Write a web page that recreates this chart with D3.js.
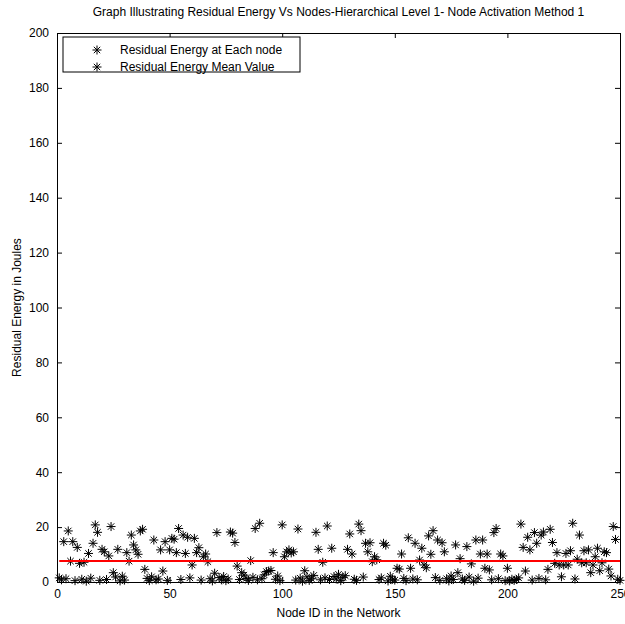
<!DOCTYPE html>
<html>
<head>
<meta charset="utf-8">
<script src="https://cdn.jsdelivr.net/npm/d3@7"></script>
<style>
  body { margin: 0; background: #fff; }
  text { font-family: "Liberation Sans", Arial, sans-serif; fill: #000; }
</style>
</head>
<body>
<svg id="chart" width="625" height="624"></svg>
<script>
// residual energy per node (J), node ids 1..250
var energy = [
  1.5, 0.8, 14.7, 1.2, 18.6, 7.6, 14.7, 0.5, 12.6, 6.8,
  1.0, 7.2, 0.3, 10.4, 1.4, 14.1, 20.8, 18.1, 0.6, 11.9,
  11.0, 0.9, 9.5, 20.2, 3.4, 1.8, 11.9, 0.4, 2.1, 0.7,
  10.7, 7.6, 17.1, 13.5, 11.7, 10.1, 18.6, 19.2, 4.6, 1.3,
  0.5, 1.9, 15.3, 0.8, 1.1, 11.7, 4.0, 14.7, 0.6, 11.7,
  15.9, 15.6, 10.7, 19.5, 0.9, 17.1, 10.4, 16.3, 1.5, 6.2,
  15.9, 10.7, 12.5, 0.7, 9.2, 10.2, 7.4, 1.2, 0.4, 3.2,
  18.0, 1.6, 0.8, 2.0, 0.5, 1.1, 18.2, 17.8, 14.4, 5.8,
  0.9, 3.4, 2.5, 1.3, 0.6, 7.8, 1.7, 19.5, 0.8, 21.4,
  1.2, 2.6, 3.8, 4.0, 4.2, 10.7, 1.0, 2.2, 0.5, 20.8,
  9.2, 11.0, 11.7, 10.6, 11.0, 0.7, 19.3, 1.4, 0.3, 4.1,
  1.9, 0.6, 1.2, 2.4, 18.1, 11.9, 0.8, 7.2, 1.5, 20.4,
  0.9, 12.3, 2.0, 1.1, 2.8, 0.5, 1.7, 2.3, 11.9, 17.5,
  10.2, 1.0, 0.6, 21.1, 18.7, 1.8, 14.1, 11.0, 14.3, 7.4,
  9.2, 8.1, 0.9, 1.5, 14.1, 13.4, 0.4, 2.1, 1.0, 0.7,
  5.0, 4.7, 10.2, 1.3, 0.5, 16.1, 5.0, 1.1, 14.1, 0.8,
  8.0, 12.3, 6.2, 5.2, 16.8, 10.1, 18.7, 1.6, 15.3, 0.6,
  14.3, 11.0, 1.2, 0.4, 2.2, 0.9, 13.5, 3.4, 8.5, 1.1,
  0.6, 12.9, 1.8, 6.6, 0.3, 15.3, 1.4, 10.2, 15.3, 5.0,
  10.2, 4.4, 0.8, 18.0, 19.5, 1.2, 10.2, 9.5, 0.5, 5.0,
  0.4, 1.0, 0.6, 0.9, 1.5, 21.1, 12.6, 4.0, 16.3, 11.7,
  0.7, 18.0, 14.1, 1.3, 17.1, 18.2, 0.8, 4.6, 19.2, 14.4,
  6.8, 10.7, 6.2, 1.9, 6.2, 10.4, 6.2, 11.4, 21.4, 1.1,
  8.3, 17.1, 7.0, 11.4, 7.0, 11.7, 3.4, 6.2, 9.2, 12.3,
  4.1, 7.0, 11.0, 10.7, 4.7, 2.2, 20.2, 15.5, 1.0, 0.6
]

var xTicks = [0, 50, 100, 150, 200, 250]
var yTicks = [0, 20, 40, 60, 80, 100, 120, 140, 160, 180, 200]
var legendLabels = ['Residual Energy at Each node', 'Residual Energy Mean Value']

var svg = d3.select('#chart')
var plotLeft = 57, plotRight = 620, plotTop = 33, plotBottom = 582

var x = d3.scaleLinear().domain([0, 250]).range([plotLeft, plotRight])
var y = d3.scaleLinear().domain([0, 200]).range([plotBottom, plotTop])

var mean = d3.mean(energy)

// star marker like matlab '*'
function star(cx, cy) {
  var a = 4.5, b = 3.2
  return 'M' + (cx - a) + ',' + cy + 'H' + (cx + a) +
    'M' + cx + ',' + (cy - a) + 'V' + (cy + a) +
    'M' + (cx - b) + ',' + (cy - b) + 'L' + (cx + b) + ',' + (cy + b) +
    'M' + (cx - b) + ',' + (cy + b) + 'L' + (cx + b) + ',' + (cy - b)
}

// points
svg.append('g').selectAll('path')
  .data(energy)
  .enter().append('path')
  .attr('d', function(d, i) { return star(x(i + 1), y(d)) })
  .attr('stroke', '#000')
  .attr('stroke-width', 1)
  .attr('fill', 'none')

// mean line
svg.append('line')
  .attr('x1', x(1)).attr('x2', x(250))
  .attr('y1', y(mean)).attr('y2', y(mean))
  .attr('stroke', '#ff0000')
  .attr('stroke-width', 2)

// axes, ticks inside like matlab
svg.append('g')
  .attr('transform', 'translate(0,' + plotBottom + ')')
  .call(d3.axisBottom(x).tickValues(xTicks).tickSizeInner(-5).tickSizeOuter(0).tickPadding(7))
svg.append('g')
  .attr('transform', 'translate(0,' + plotTop + ')')
  .call(d3.axisTop(x).tickValues(xTicks).tickSizeInner(-5).tickSizeOuter(0).tickFormat(''))
svg.append('g')
  .attr('transform', 'translate(' + plotLeft + ',0)')
  .call(d3.axisLeft(y).tickValues(yTicks).tickSizeInner(-5).tickSizeOuter(0).tickPadding(8))
svg.append('g')
  .attr('transform', 'translate(' + plotRight + ',0)')
  .call(d3.axisRight(y).tickValues(yTicks).tickSizeInner(-5).tickSizeOuter(0).tickFormat(''))

svg.selectAll('.domain').attr('stroke', '#000')
svg.selectAll('.tick line').attr('stroke', '#000')
svg.selectAll('.tick text').attr('font-size', 12).attr('font-family', '"Liberation Sans", Arial, sans-serif')

// title and axis labels
svg.append('text')
  .attr('x', (plotLeft + plotRight) / 2).attr('y', 16)
  .attr('text-anchor', 'middle').attr('font-size', 12)
  .text('Graph Illustrating Residual Energy Vs Nodes-Hierarchical Level 1- Node Activation Method 1')

svg.append('text')
  .attr('x', (plotLeft + plotRight) / 2).attr('y', 617)
  .attr('text-anchor', 'middle').attr('font-size', 12)
  .text('Node ID in the Network')

svg.append('text')
  .attr('transform', 'translate(21,' + (plotTop + plotBottom) / 2 + ') rotate(-90)')
  .attr('text-anchor', 'middle').attr('font-size', 12)
  .text('Residual Energy in Joules')

// legend
var lg = svg.append('g')
lg.append('rect')
  .attr('x', 63).attr('y', 37).attr('width', 237).attr('height', 35)
  .attr('fill', '#fff').attr('stroke', '#000')

legendLabels.forEach(function(t, i) {
  lg.append('path')
    .attr('d', star(97, 50 + i * 17))
    .attr('stroke', '#000').attr('fill', 'none')
  lg.append('text')
    .attr('x', 120).attr('y', 54 + i * 17)
    .attr('font-size', 12)
    .text(t)
})
</script>
</body>
</html>
